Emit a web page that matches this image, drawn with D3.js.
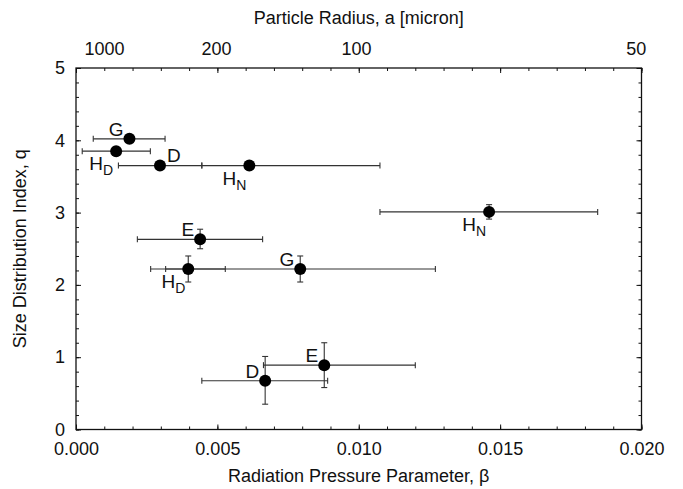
<!DOCTYPE html>
<html>
<head>
<meta charset="utf-8">
<script src="https://cdn.jsdelivr.net/npm/d3@7"></script>
<style>
  html, body { margin: 0; padding: 0; background: #fff; }
  svg { display: block; font-family: "Liberation Sans", Arial, sans-serif; }
</style>
</head>
<body>
<svg id="chart" width="683" height="489"></svg>
<script>
// Comet labels (main letter + subscript)
const labelMain = ["G", "H", "D", "H", "H", "E", "H", "G", "D", "E"];
const labelSub  = ["", "D", "", "N", "N", "", "D", "", "", ""];

// Radiation pressure parameter β with horizontal error range
const beta     = [0.00189, 0.00142, 0.00297, 0.00613, 0.01461, 0.00439, 0.00397, 0.00793, 0.00669, 0.00878];
const betaLow  = [0.00061, 0.00022, 0.00150, 0.00445, 0.01075, 0.00217, 0.00264, 0.00317, 0.00445, 0.00663];
const betaHigh = [0.00315, 0.00263, 0.00445, 0.01075, 0.01845, 0.00660, 0.00528, 0.01271, 0.00890, 0.01200];

// Size distribution index q with vertical error range
const q     = [4.02, 3.85, 3.65, 3.65, 3.01, 2.63, 2.22, 2.22, 0.675, 0.89];
const qLow  = [4.02, 3.85, 3.65, 3.65, 2.91, 2.50, 2.04, 2.04, 0.35, 0.58];
const qHigh = [4.02, 3.85, 3.65, 3.65, 3.11, 2.77, 2.40, 2.40, 1.01, 1.20];

// Top axis: particle radius labels (micron)
const radiusTicks = [1000, 200, 100, 50];
const betaPerMicron = 0.99; // β ≈ 0.99 / a

// Bottom / left tick values
const xTicks = [0, 0.005, 0.010, 0.015, 0.020];
const yTicks = [0, 1, 2, 3, 4, 5];

// Where each label sits relative to its point
const labelSide = ["ul", "ll", "ur", "ll", "ll", "ul", "ll", "ul", "ul", "ul"];

const FONT = 18;
const svg = d3.select("#chart");
const m = { left: 76, right: 641.5, top: 68, bottom: 429.5 };

const x = d3.scaleLinear().domain([0, 0.02]).range([m.left, m.right]);
const y = d3.scaleLinear().domain([0, 5]).range([m.bottom, m.top]);

const minorX = d3.range(0, 0.02001, 0.001);
const minorY = d3.range(0, 5.001, 0.2);

function styleAxis(g) {
  g.select(".domain").remove();
  g.selectAll("line").attr("stroke", "#111").attr("stroke-width", 1);
  g.selectAll("text").attr("font-size", FONT).attr("fill", "#111")
    .attr("font-family", "'Liberation Sans', Arial, sans-serif");
}

// Minor ticks on all four sides (inward)
svg.append("g").attr("transform", `translate(0,${m.bottom})`)
  .call(d3.axisBottom(x).tickValues(minorX).tickSize(-3).tickFormat(""))
  .call(styleAxis);
svg.append("g").attr("transform", `translate(0,${m.top})`)
  .call(d3.axisTop(x).tickValues(minorX).tickSize(-3).tickFormat(""))
  .call(styleAxis);
svg.append("g").attr("transform", `translate(${m.left},0)`)
  .call(d3.axisLeft(y).tickValues(minorY).tickSize(-3).tickFormat(""))
  .call(styleAxis);
svg.append("g").attr("transform", `translate(${m.right},0)`)
  .call(d3.axisRight(y).tickValues(minorY).tickSize(-3).tickFormat(""))
  .call(styleAxis);

// Major ticks with labels
svg.append("g").attr("transform", `translate(0,${m.bottom})`)
  .call(d3.axisBottom(x).tickValues(xTicks).tickSize(-5).tickPadding(13).tickFormat(d3.format(".3f")))
  .call(styleAxis);
svg.append("g").attr("transform", `translate(0,${m.top})`)
  .call(d3.axisTop(x).tickValues(xTicks).tickSize(-5).tickFormat(""))
  .call(styleAxis);
svg.append("g").attr("transform", `translate(${m.left},0)`)
  .call(d3.axisLeft(y).tickValues(yTicks).tickSize(-5).tickPadding(11).tickFormat(d3.format("d")))
  .call(styleAxis);
svg.append("g").attr("transform", `translate(${m.right},0)`)
  .call(d3.axisRight(y).tickValues(yTicks).tickSize(-5).tickFormat(""))
  .call(styleAxis);

// Top axis: particle radius labels only
svg.append("g").attr("transform", `translate(0,${m.top})`)
  .call(d3.axisTop(x).tickValues(radiusTicks.map(a => betaPerMicron / a)).tickSize(0).tickPadding(13)
    .tickFormat((d, i) => String(radiusTicks[i])))
  .call(styleAxis);

// Frame
svg.append("rect")
  .attr("x", m.left).attr("y", m.top)
  .attr("width", m.right - m.left).attr("height", m.bottom - m.top)
  .attr("fill", "none").attr("stroke", "#111").attr("stroke-width", 1.3);

// Axis titles
svg.append("text").attr("x", (m.left + m.right) / 2).attr("y", 482)
  .attr("text-anchor", "middle").attr("font-size", FONT).attr("fill", "#111")
  .text("Radiation Pressure Parameter, β");
svg.append("text").attr("x", (m.left + m.right) / 2).attr("y", 24)
  .attr("text-anchor", "middle").attr("font-size", FONT).attr("fill", "#111")
  .text("Particle Radius, a [micron]");
svg.append("text")
  .attr("transform", `translate(26,${(m.top + m.bottom) / 2}) rotate(-90)`)
  .attr("text-anchor", "middle").attr("font-size", FONT).attr("fill", "#111")
  .text("Size Distribution Index, q");

const idx = d3.range(beta.length);
const cap = 3;

// Error bars
const eb = svg.append("g").attr("stroke", "#333").attr("stroke-width", 1.1).attr("fill", "none");
idx.forEach(i => {
  const g = eb.append("g");
  g.append("line").attr("x1", x(betaLow[i])).attr("x2", x(betaHigh[i]))
    .attr("y1", y(q[i])).attr("y2", y(q[i]));
  g.append("line").attr("x1", x(betaLow[i])).attr("x2", x(betaLow[i]))
    .attr("y1", y(q[i]) - cap).attr("y2", y(q[i]) + cap);
  g.append("line").attr("x1", x(betaHigh[i])).attr("x2", x(betaHigh[i]))
    .attr("y1", y(q[i]) - cap).attr("y2", y(q[i]) + cap);
  if (qHigh[i] > qLow[i]) {
    g.append("line").attr("x1", x(beta[i])).attr("x2", x(beta[i]))
      .attr("y1", y(qLow[i])).attr("y2", y(qHigh[i]));
    g.append("line").attr("x1", x(beta[i]) - cap).attr("x2", x(beta[i]) + cap)
      .attr("y1", y(qLow[i])).attr("y2", y(qLow[i]));
    g.append("line").attr("x1", x(beta[i]) - cap).attr("x2", x(beta[i]) + cap)
      .attr("y1", y(qHigh[i])).attr("y2", y(qHigh[i]));
  }
});

// Points
svg.append("g").selectAll("circle").data(idx).join("circle")
  .attr("cx", i => x(beta[i])).attr("cy", i => y(q[i]))
  .attr("r", 6).attr("fill", "#000");

// Labels
const lab = svg.append("g").attr("font-size", 19).attr("fill", "#111");
idx.forEach(i => {
  const px = x(beta[i]), py = y(q[i]);
  const side = labelSide[i];
  let tx, ty, anchor;
  if (side === "ul") { tx = px - 6; ty = py - 3; anchor = "end"; }
  else if (side === "ur") { tx = px + 7; ty = py - 4; anchor = "start"; }
  else { tx = px - 3; ty = py + 19; anchor = "end"; }
  const t = lab.append("text").attr("x", tx).attr("y", ty).attr("text-anchor", anchor);
  t.append("tspan").text(labelMain[i]);
  if (labelSub[i]) {
    t.append("tspan").attr("dy", 5).attr("font-size", 14).text(labelSub[i]);
  }
});
</script>
</body>
</html>
